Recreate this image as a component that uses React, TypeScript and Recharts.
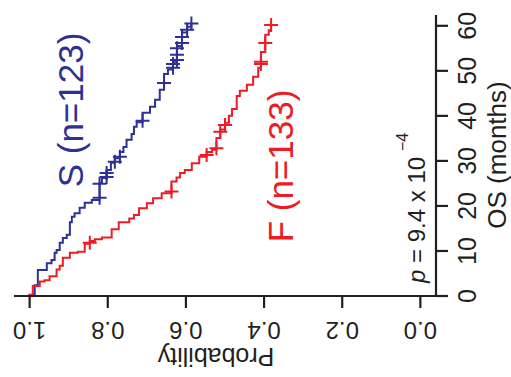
import { ComposedChart, Line, Scatter, XAxis, YAxis } from "recharts";

const BLUE = "#2e3192";
const RED = "#ed1c24";
const INK = "#231f20";
const FONT = "'Liberation Sans', Arial, Helvetica, sans-serif";

// S (n=123): drop times (months) and survival after each drop
const S_TIMES = [0, 0.3, 2.4, 5.8, 7.3, 8.0, 9.6, 10.2, 11.8, 12.9, 13.6, 16.4, 17.6, 18.4, 19.6, 20.7, 21.3, 25.1, 26.2, 28.0, 29.6, 30.6, 32.0, 33.1, 34.7, 36.0, 37.6, 38.6, 40.7, 42.0, 43.6, 45.8, 49.3, 50.3, 52.0, 55.5, 58.5, 59.8];
const S_SURV = [1, 0.987, 0.979, 0.956, 0.944, 0.936, 0.931, 0.923, 0.915, 0.905, 0.897, 0.892, 0.885, 0.872, 0.859, 0.841, 0.821, 0.815, 0.803, 0.792, 0.782, 0.769, 0.76, 0.752, 0.739, 0.733, 0.726, 0.711, 0.692, 0.679, 0.667, 0.656, 0.646, 0.633, 0.623, 0.61, 0.597, 0.586];
const S_CENSOR = [21.8, 24.9, 26.4, 27.3, 29.8, 30.9, 38.9, 47.3, 50.7, 51.5, 52.4, 53.6, 55.0, 56.2, 57.5, 59.1, 60.5];
const S_END = 60.5;

// F (n=133)
const F_TIMES = [0, 0.2, 2.2, 3.2, 3.5, 4.4, 5.9, 6.7, 8.5, 9.6, 9.8, 11.6, 12.2, 12.6, 13.0, 14.8, 16.4, 17.2, 18.0, 19.5, 20.6, 21.7, 22.8, 25.4, 26.3, 27.3, 28.0, 29.5, 30.9, 32.0, 32.5, 35.1, 37.0, 38.5, 40.0, 41.5, 44.4, 45.6, 46.9, 48.7, 50.7, 54.2, 58.0, 59.0];
const F_SURV = [1, 0.992, 0.974, 0.962, 0.949, 0.931, 0.923, 0.915, 0.897, 0.877, 0.859, 0.846, 0.833, 0.815, 0.79, 0.772, 0.745, 0.733, 0.72, 0.7, 0.684, 0.662, 0.637, 0.624, 0.615, 0.603, 0.585, 0.566, 0.547, 0.533, 0.522, 0.512, 0.5, 0.49, 0.482, 0.47, 0.462, 0.444, 0.428, 0.415, 0.408, 0.397, 0.388, 0.382];
const F_CENSOR = [11.8, 23.2, 31.3, 32.8, 36.5, 38.0, 51.5, 52.0, 56.2, 60.2];
const F_END = 60.2;

const MONTH_TICKS = [0, 10, 20, 30, 40, 50, 60];
const PROB_TICKS = [0, 0.2, 0.4, 0.6, 0.8, 1.0];

function steps(times: number[], surv: number[], end: number) {
  const rows = times.map((t, i) => ({ t, p: surv[i] }));
  rows.push({ t: end, p: surv[surv.length - 1] });
  return rows;
}

function marks(times: number[], surv: number[], censor: number[]) {
  return censor.map((c) => {
    let p = surv[0];
    times.forEach((t, i) => {
      if (t <= c) p = surv[i];
    });
    return { t: c, p };
  });
}

const plus = (color: string) => (props: any) => {
  const { cx, cy } = props;
  return (
    <g stroke={color} strokeWidth={2}>
      <line x1={cx - 7} x2={cx + 7} y1={cy} y2={cy} />
      <line x1={cx} x2={cx} y1={cy - 7} y2={cy + 7} />
    </g>
  );
};

function MonthTick({ x, y, payload }: any) {
  return (
    <text x={x} y={y} dy="0.71em" textAnchor="middle" fontSize={25} fill={INK} fontFamily={FONT}>
      {payload.value}
    </text>
  );
}

function ProbTick({ x, y, payload }: any) {
  return (
    <text x={x} y={y} transform={`rotate(-90, ${x}, ${y})`} textAnchor="middle" fontSize={24} fill={INK} fontFamily={FONT}>
      {Number(payload.value).toFixed(1)}
    </text>
  );
}

const axisStyle = { stroke: INK, strokeWidth: 2.2 };

export default function App() {
  const sData = steps(S_TIMES, S_SURV, S_END);
  const fData = steps(F_TIMES, F_SURV, F_END);
  const sMarks = marks(S_TIMES, S_SURV, S_CENSOR);
  const fMarks = marks(F_TIMES, F_SURV, F_CENSOR);

  return (
    <div style={{ position: "fixed", left: 0, top: 0, width: 511, height: 377, overflow: "hidden", background: "#fff" }}>
      {/* drawn upright, then turned a quarter turn like the source figure */}
      <div
        style={{
          position: "absolute",
          left: 0,
          top: 0,
          width: 377,
          height: 511,
          transformOrigin: "0 0",
          transform: "translate(0px, 377px) rotate(-90deg)",
        }}
      >
        <ComposedChart width={377} height={511} margin={{ top: 14, right: 15, bottom: 0, left: 0 }}>
          <XAxis
            type="number"
            dataKey="t"
            domain={[0, 62.4]}
            ticks={MONTH_TICKS}
            allowDataOverflow
            height={75}
            tickSize={12}
            tickMargin={10}
            tick={<MonthTick />}
            axisLine={axisStyle}
            tickLine={axisStyle}
          />
          <YAxis
            type="number"
            dataKey="p"
            domain={[-0.04, 1.04]}
            ticks={PROB_TICKS}
            allowDataOverflow
            width={81}
            tickSize={12}
            tickMargin={14}
            tick={<ProbTick />}
            axisLine={axisStyle}
            tickLine={axisStyle}
          />
          <Line data={sData} dataKey="p" type="stepAfter" stroke={BLUE} strokeWidth={2} dot={false} isAnimationActive={false} />
          <Line data={fData} dataKey="p" type="stepAfter" stroke={RED} strokeWidth={2} dot={false} isAnimationActive={false} />
          <Scatter data={sMarks} dataKey="p" shape={plus(BLUE)} isAnimationActive={false} />
          <Scatter data={fMarks} dataKey="p" shape={plus(RED)} isAnimationActive={false} />

          <text x={222} y={506} textAnchor="middle" fontSize={26} fill={INK} fontFamily={FONT}>
            OS (months)
          </text>
          <text x={29} y={216} transform="rotate(-90, 29, 216)" textAnchor="middle" fontSize={25} fill={INK} fontFamily={FONT}>
            Probability
          </text>
          <text x={267} y={83} textAnchor="middle" fontSize={35} fill={BLUE} fontFamily={FONT}>
            S (n=123)
          </text>
          <text x={211} y={293} textAnchor="middle" fontSize={35} fill={RED} fontFamily={FONT}>
            F (n=133)
          </text>
          <text x={94} y={425} fontSize={24} fill={INK} fontFamily={FONT}>
            <tspan fontStyle="italic">p</tspan> = 9.4 x 10
          </text>
          <text x={226} y={408} fontSize={16} fill={INK} fontFamily={FONT}>
            −4
          </text>
        </ComposedChart>
      </div>
    </div>
  );
}
